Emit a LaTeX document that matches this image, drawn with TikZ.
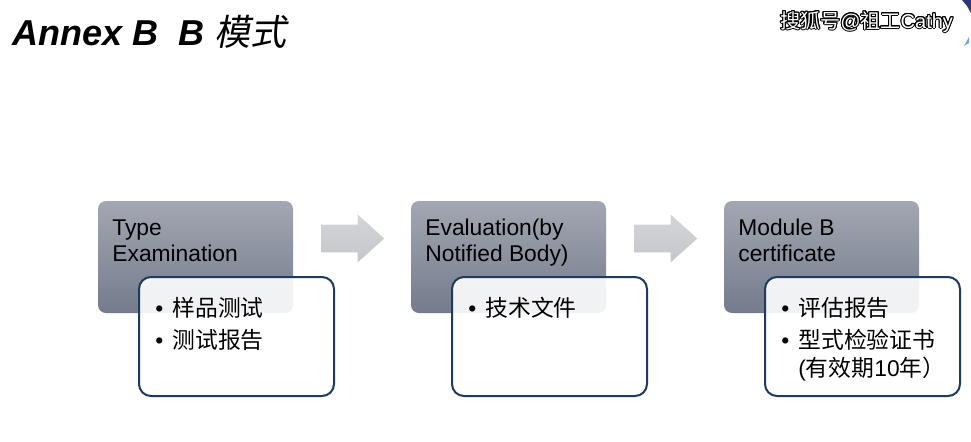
\documentclass[tikz,border=0pt]{standalone}
\usepackage{fontspec}
\setmainfont{Liberation Sans}
\newfontfamily\cjk{Noto Sans CJK SC}
\newfontfamily\cjktitle[FakeSlant=0.2]{Noto Sans CJK SC}
\usepackage{contour}
\contourlength{0.5pt}
\usetikzlibrary{positioning,shapes.arrows,calc}
\definecolor{stagetop}{RGB}{163,167,178}
\definecolor{stagebottom}{RGB}{116,123,140}
\definecolor{detailblue}{RGB}{31,58,95}
\definecolor{arrowtop}{RGB}{212,213,217}
\definecolor{arrowbottom}{RGB}{196,198,203}
\definecolor{logoblue}{RGB}{40,56,120}
\definecolor{logolight}{RGB}{110,170,230}

\begin{document}
\begin{tikzpicture}[x=0.5pt, y=-0.5pt]
    % Define styles
    \tikzstyle{stage} = [rectangle, rounded corners=4pt, minimum width=97.5pt, minimum height=56pt, top color=stagetop, bottom color=stagebottom, outer sep=0pt]
    \tikzstyle{detail} = [rectangle, rounded corners=6pt, minimum width=97.5pt, minimum height=59.5pt, draw=detailblue, line width=1pt, fill=white, fill opacity=0.9, anchor=north west]
    \tikzstyle{stagetext} = [anchor=north west, inner sep=0pt, align=left, text opacity=1, fill opacity=1, font=\fontsize{11.4}{13}\selectfont, xshift=7pt, yshift=-9pt]
    \tikzstyle{detailtext} = [anchor=north west, inner sep=0pt, align=left, text opacity=1, fill opacity=1, font=\fontsize{11.4}{14}\selectfont, xshift=8.5pt, yshift=-10.5pt]
    \tikzstyle{blockarrow} = [single arrow, minimum height=31.5pt, minimum width=23.5pt, single arrow head extend=5pt, single arrow tip angle=84, inner xsep=0pt, inner ysep=6.75pt, top color=arrowtop, bottom color=arrowbottom]
    \newcommand{\bul}{\makebox[8.5pt][l]{\textbullet}}

    \useasboundingbox (0,0) rectangle (971,441);
    \fill [white] (0,0) rectangle (971,441);

    % Title and mark
    \node [anchor=base west, inner sep=0pt, font=\fontsize{18}{20}\selectfont\bfseries\itshape] (title) at (12,45) {Annex B~~B {\mdseries\cjktitle 模式}};
    \node [anchor=base west, inner sep=0pt, font=\fontsize{10}{12}\selectfont] (mark) at (780,28) {\contour{black}{\textcolor{white}{{\cjk 搜狐号}@{\cjk 祖工}Cathy}}};
    \fill [logoblue] (962,0) -- (971,0) -- (971,13) -- (967,6) -- cycle;
    \fill [logolight] (964,46) -- (969,37) -- (969,43) -- cycle;

    % Nodes
    \node [stage, label={[stagetext]north west:Type\\Examination}] (exam) at (195.5,257) {};
    \node [stage, right=59pt of exam, label={[stagetext]north west:Evaluation(by\\Notified Body)}] (eval) {};
    \node [stage, right=59pt of eval, label={[stagetext]north west:Module B\\certificate}] (cert) {};

    % Arrows
    \node [blockarrow] (step1) at ($(exam.east)!0.5!(eval.west)+(-7,-18.5)$) {};
    \node [blockarrow] (step2) at ($(eval.east)!0.5!(cert.west)+(-7,-18.5)$) {};

    % Detail boxes
    \node [detail, label={[detailtext]north west:\bul{\cjk 样品测试}\\[2pt]\bul{\cjk 测试报告}}] (examnote) at ($(exam.north west)+(40,75)$) {};
    \node [detail, label={[detailtext]north west:\bul{\cjk 技术文件}}] (evalnote) at ($(eval.north west)+(40,75)$) {};
    \node [detail, label={[detailtext]north west:\bul{\cjk 评估报告}\\[2pt]\bul{\cjk 型式检验证书}\\\hspace*{8.5pt}({\cjk 有效期}10{\cjk 年）}}] (certnote) at ($(cert.north west)+(40,75)$) {};
\end{tikzpicture}
\end{document}
